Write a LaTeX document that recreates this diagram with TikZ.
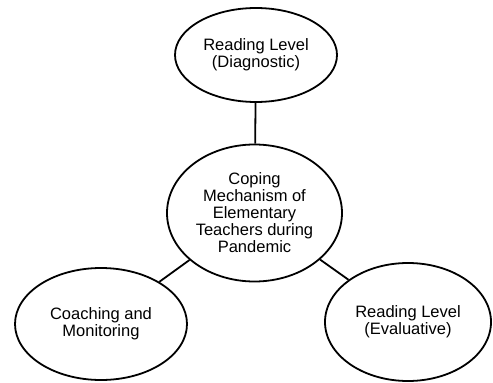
\documentclass[tikz,border=0pt]{standalone}
\usepackage{fontspec}
\setmainfont{Liberation Sans}
\usetikzlibrary{shapes.geometric}

\begin{document}
\begin{tikzpicture}[x=1pt,y=1pt]
\tikzset {bubble/.style={ellipse, draw, line width=1.8pt, inner sep=0pt, align=center,
  font=\fontsize{16.5}{17}\selectfont}}
\useasboundingbox (0,0) rectangle (493,-383);
\node [bubble, minimum width=162, minimum height=94] (diag) at (256,-55) {Reading Level\\(Diagnostic)};
\node [bubble, minimum width=175, minimum height=137] (cope) at (254.5,-213) {Coping\\Mechanism of\\Elementary\\Teachers during\\Pandemic};
\node [bubble, minimum width=172, minimum height=112] (coach) at (101,-324) {Coaching and\\Monitoring};
\node [bubble, minimum width=166, minimum height=118] (eval) at (408,-322) {Reading Level\\(Evaluative)};
\draw [line width=1.8pt] (diag) -- (cope);
\draw [line width=1.8pt] (cope) -- (coach);
\draw [line width=1.8pt] (cope) -- (eval);
\end{tikzpicture}
\end{document}
